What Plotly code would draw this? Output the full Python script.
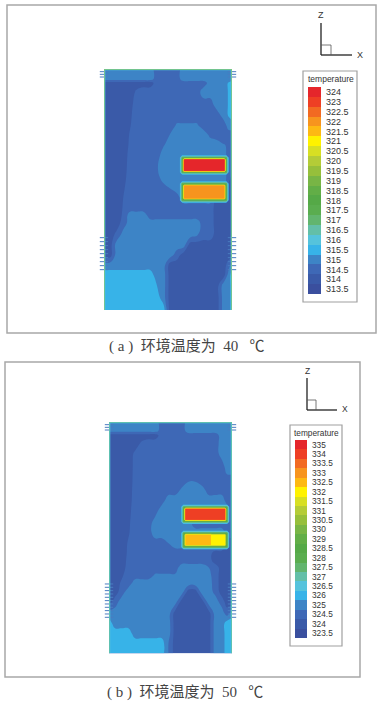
import plotly.graph_objects as go

W, H = 381, 705

# legend bands, lowest first
levels_a = ["313.5","314","314.5","315","315.5","316","316.5","317","317.5","318","318.5",
            "319","319.5","320","320.5","321","321.5","322","322.5","323","324"]
levels_b = ["323.5","324","324.5","325","326","326.5","327","327.5","328","328.5","329",
            "330","330.5","331","331.5","332","332.5","333","333.5","334","335"]
band_colors = ["#3a4f9e","#3a5aa8","#3e68b6","#3d84c6","#37b3e8","#55c3dc","#63bfa8","#62b56e",
               "#5aad4f","#55a947","#62ae47","#78b545","#96bf3b","#b4cc37","#d7df23","#fff200",
               "#fdb913","#f7941e","#f26a22","#ee3f24","#e5262b"]
captions = ["( a )  环境温度为  40   ℃", "( b )  环境温度为  50   ℃"]

# temperature field, as legend band number per grid node
x_a = [42,60,80,100,120,140,160,180,200,220,240,260,280,300,320,340,360,380,400,415,425]
y_a = [42,72,84,110,150,180,210,240,270,300,340,370,400,430,460,480,505,540,570,600,630,660,690,730,765]
z_a = [
 [3,3,3,3,3,3,3,3,2,2,2,2,3,3,3,3,3,3,3,3,3],
 [3,3,3,3,3,3,3,3,2,2,2,2,3,3,3,3,3,3,3,3,3],
 [1,1,1,1,1,1,1,1,2,2,2,2,2,2,2,2,3,3,3,3.6,4],
 [1,1,1,1,1,1.67,2,2,2,2,2,2,2,2,2,3,3,3,3,3.6,4],
 [1,1,1,1,1.17,2,2,2,2,2,2,2,2,2,2,2,2,3,3,3.6,4],
 [1,1,1,1,1.33,2,2,2,2,2,2,2,2,2,2,2,2,2,3,3.6,4],
 [1,1,1,1,1.44,2,2,2,2,2,2,2.6,2.6,2.6,2.6,2,2,2,2,3,3],
 [1,1,1,1,1.59,2,2,2,2,2,2.56,3,3,3,3,3,2.3,2,2,2,2],
 [1,1,1,1,1.67,2,2,2,2,2.4,3,3,3,3,3,3,3,3,2.55,2.4,2],
 [1,1,1,1,1.83,2,2,2,2,3,3,3,3,3,3,3,3,3,3,2,2],
 [1,1,1,1,2,2,2,2,2.4,3,3,3,3,3,3,3,3,3,3,2,2],
 [1,1,1,1.17,2,2,2,2,2,3,3,3,3,3,3,3,3,3,3,2,1],
 [1,1,1,1.38,2,2,2,2,2,2,2.52,3,3,3,3,3,3,3,3,1,1],
 [1,1,1,1.52,2,2,2,2,2,2,2,2,3,3,3,3,3,1,1,1,1],
 [1,1,1,1.59,2,2,2,2,2,2,2,2,2,2,2,2,2,1,1,1,1],
 [1,1,1,1.67,3,3,3,2,2,2,2,2,2,2,2,2,2,1,1,1,1],
 [1,1,1,2,3,3,3,3,3,3,3,3,3,3,3,2,2,1,1,1,1],
 [1,1,1.8,3,3,3,3,3,3,3,3,3,3,3,2.6,2,2,1,1,1,1],
 [1,1,3,3,3,3,3,3,3,3,3,3,3,1,1,1,1,1,1,1,1],
 [1,1,3,3,3,3,3,3,3,3,3,2,1,1,1,1,1,1,1,1,1],
 [3,3,3,3,3,3,3,3,3,3,1,1,1,1,1,1,1,1,1,2,3],
 [4,4,4,4,4,4,4,4,3,3,1,1,1,1,1,1,1,1,1,3,4],
 [4,4,4,4,4,4,4,4,3.5,3,1,1,1,1,1,1,1,1,3,3,4],
 [4,4,4,4,4,4,4,4,4,3,1,1,1,1,1,1,1,1,3,3,4],
 [4,4,4,4,4,4,4,4,4,4,1,1,1,1,1,1,1,1,3,3,4],
]
x_b = [57,75,95,115,135,155,175,195,215,235,255,275,295,315,335,355,375,395,410,425]
y_b = [36,62,76,100,130,170,215,240,270,300,340,370,400,430,452,472,495,520,545,575,610,640,670,700,730]
z_b = [
 [3,3,3,3,3,3,3,3,2,2,2,2,3,3,3,3,3,3,3,3],
 [3,3,3,3,3,3,3,3,2,2,2,2,3,3,3,3,3,3,3,3],
 [1,1,1,1,1,1,1,1,2,2,2,2,2,2,2,2,2,3,3,3],
 [1,1,1,1,1,1.67,2,2,2,2,2,2,2,2,2,2,2,3,3,3],
 [1,1,1,1,1.67,2,2,2,2,2,2,2,2,2,2,2,2,3,3,3],
 [1,1,1,1,1.77,2,2,2,2,2,2,2,2,2,2,2,2,2,3,3],
 [1,1,1,1,1.83,2,2,2,2,2,2,2,2.5,2.5,2,2,2,2,2,2],
 [1,1,1,1,1.91,2,2,2,2,2,2,2.7,3,3,3,2,2,2,2,2],
 [1,1,1,1,2,2,2,2,2,3,3,3,3,3,3,3,3,3,2,2],
 [1,1,1,1.17,2,2,2,2,3,3,3,3,3,3,3,3,3,3,3,2],
 [1,1,1,1.33,2,2,2,3,3,3,3,3,3,2,2,2,2,2,2,2],
 [1,1,1,1.41,2,2,2,3,3,3,3,3,3,3,3,3,3,3,2,2],
 [1,1,1,1.6,2,2,2,2,2,2.5,3,3,3,3,3,3,3,3,1,1],
 [1,1,1,1.67,2,2,2,2,2,2,2,2,2,2,2,2,1,1,1,1],
 [1,1,1,1.77,2,2,2,2,2,2,2,2,2,2,2,2,1,1,1,1],
 [1,1,1,1.91,2,2,2,2,2,2,2,3,3,3,3,2.5,2,1,1,1],
 [1,1,1.33,2,2,2,2,2.6,2.6,2.6,2.6,3,3,3,3,2.8,2,1,1,1],
 [1,1,1.67,2,3,3,3,3,3,3,3,3,3,3,3,3,2,1,1,1],
 [1,1,2,3,3,3,3,3,3,3,3,3,1,1,3,3,2.2,1,1,1],
 [1,2,3,3,3,3,3,3,3,3,3,1,1,1,1,3,3,2,1,1],
 [3,3,3,3,3,3,3,3,3,3,1,1,1,1,1,1,3,3,2,3],
 [4,3,3,3,3,3,3,3,3,3,1,1,1,1,1,1,3,3,4,4],
 [4,4,4,4,3,3,3,3,3,3,1,1,1,1,1,1,3,3,4,4],
 [4,4,4,4,4,4,4,4,4,2.5,1,1,1,1,1,1,3,3,4,4],
 [4,4,4,4,4,4,4,4,4,2.5,1,1,1,1,1,1,3,3,4,4],
]

# hot blocks: band number per grid node
block_a1_x = [268,276,282,402,408,416]
block_a1_y = [300,308,314,347,352,360]
block_a1_z = [[3,3,3,3,3,3],[3,8,8,8,8,3],[3,8,20,20,8,3],[3,8,20,20,8,3],[3,8,8,8,8,3],[3,3,3,3,3,3]]
block_a2_x = [268,276,282,402,408,416]
block_a2_y = [378,386,392,430,436,444]
block_a2_z = [[3,3,3,3,3,3],[3,8,8,8,8,3],[3,8,17,17,8,3],[3,8,17,17,8,3],[3,8,8,8,8,3],[3,3,3,3,3,3]]
block_b1_x = [272,280,286,404,410,418]
block_b1_y = [283,291,297,329,335,343]
block_b1_z = [[3,3,3,3,3,3],[3,8,8,8,8,3],[3,8,19,19,8,3],[3,8,19,19,8,3],[3,8,8,8,8,3],[3,3,3,3,3,3]]
block_b2_x = [272,280,286,360,364,404,410,418]
block_b2_y = [361,369,375,405,411,419]
block_b2_z = [[3,3,3,3,3,3,3,3],[3,8,8,8,8,8,8,3],[3,8,16,16,15,15,8,3],[3,8,16,16,15,15,8,3],[3,8,8,8,8,8,8,3],[3,3,3,3,3,3,3,3]]

# serrated boundary-condition ticks along the side walls
ticks_a_y = [50,58,66,548,560,572,584,596,608,620,632,644]
ticks_b_y = [44,52,60,522,532,542,552,562,572,582,592,602,612,622]

opaque = [[i / 20, c] for i, c in enumerate(band_colors)]
def rgba(c, a):
    return f"rgba({int(c[1:3],16)},{int(c[3:5],16)},{int(c[5:7],16)},{a})"
halo = [[i / 20, rgba(c, 0 if i <= 3 else 1)] for i, c in enumerate(band_colors)]

def fx(px): return px / W
def fy(py): return 1 - py / H

fig = go.Figure()

def field(x, y, z, xa, ya, scale, smooth):
    fig.add_trace(go.Contour(x=x, y=y, z=z, xaxis=xa, yaxis=ya, colorscale=scale, zmin=0, zmax=20,
                             autocontour=False, showscale=False, hoverinfo="skip",
                             line=dict(width=0, smoothing=smooth),
                             contours=dict(start=0.5, end=19.5, size=1, coloring="fill", showlines=False)))

def walls(x, y, ticks, xa, ya, under, over):
    l, r, t, b = x[0], x[-1], y[0], y[-1]
    fig.add_trace(go.Scatter(x=[l]*len(ticks)+[r]*len(ticks), y=ticks+ticks, xaxis=xa, yaxis=ya, mode="markers",
                             cliponaxis=False, showlegend=False, hoverinfo="skip",
                             marker=dict(symbol="line-ew", size=6, line=dict(width=1, color="#4a7cc0"))))
    for c, w in ((under, 2.6), (over, 1.4)):
        fig.add_trace(go.Scatter(x=[l, l, r, r], y=[b, t, t, b], xaxis=xa, yaxis=ya, mode="lines",
                                 cliponaxis=False, showlegend=False, hoverinfo="skip",
                                 line=dict(color=c, width=w)))

field(x_a, y_a, z_a, "x", "y", opaque, 1.3)
field(block_a1_x, block_a1_y, block_a1_z, "x", "y", halo, 0)
field(block_a2_x, block_a2_y, block_a2_z, "x", "y", halo, 0)
walls(x_a, y_a, ticks_a_y, "x", "y", "#55c3dc", "#7cc576")

field(x_b, y_b, z_b, "x3", "y3", opaque, 1.3)
field(block_b1_x, block_b1_y, block_b1_z, "x3", "y3", halo, 0)
field(block_b2_x, block_b2_y, block_b2_z, "x3", "y3", halo, 0)
walls(x_b, y_b, ticks_b_y, "x3", "y3", "#55c3dc", "#62c0a0")

def bar(levels, xa, ya):
    fig.add_trace(go.Heatmap(x=[0], y=levels, z=[[i] for i in range(21)], xaxis=xa, yaxis=ya,
                             colorscale=opaque, zmin=0, zmax=20, showscale=False, hoverinfo="skip"))
bar(levels_a, "x2", "y2")
bar(levels_b, "x4", "y4")

def hidden(d0, d1, **kw):
    return dict(domain=[d0, d1], visible=False, **kw)

def baraxis(y0, y1, anchor, size, standoff, levels):
    return dict(domain=[fy(y1), fy(y0)], type="category", side="right", anchor=anchor, showgrid=False,
                zeroline=False, showline=False, ticks="", ticklabelstandoff=standoff,
                tickmode="array", tickvals=levels, ticktext=levels,
                tickfont=dict(family="Liberation Sans", size=size, color="#333333"))

fig.update_layout(
    width=W, height=H, margin=dict(l=0, r=0, t=0, b=0), paper_bgcolor="white", plot_bgcolor="white",
    showlegend=False,
    xaxis=hidden(fx(104), fx(232), range=[x_a[0], x_a[-1]]),
    yaxis=hidden(fy(310), fy(69), range=[y_a[-1], y_a[0]]),
    xaxis3=hidden(fx(109), fx(232), range=[x_b[0], x_b[-1]]),
    yaxis3=hidden(fy(653.3), fy(422), range=[y_b[-1], y_b[0]]),
    xaxis2=hidden(fx(308), fx(321)),
    yaxis2=baraxis(87, 294, "x2", 9, 4, levels_a),
    xaxis4=hidden(fx(295), fx(307)),
    yaxis4=baraxis(440, 638, "x4", 8.3, 4, levels_b),
)

def rect(x0, y0, x1, y1, color, width, fill=None):
    return dict(type="rect", xref="paper", yref="paper", x0=fx(x0), x1=fx(x1), y0=fy(y0), y1=fy(y1),
                line=dict(color=color, width=width), fillcolor=fill, layer="below")
def seg(x0, y0, x1, y1, width=1.3, color="#222222"):
    return dict(type="line", xref="paper", yref="paper", x0=fx(x0), x1=fx(x1), y0=fy(y0), y1=fy(y1),
                line=dict(color=color, width=width))

fig.update_layout(shapes=[
    rect(7, 5, 376, 333, "#a8a8a8", 1.5),
    rect(303, 71, 357, 302, "#a0a0a0", 1.2, "white"),
    seg(321, 23, 321, 55), seg(321, 55, 352, 55), seg(321, 45, 331, 45, 0.8, "#555555"), seg(331, 45, 331, 55, 0.8, "#555555"),
    rect(5, 362, 360, 677, "#a8a8a8", 1.5),
    rect(290, 425, 342, 646, "#a0a0a0", 1.2, "white"),
    seg(307, 378, 307, 410), seg(307, 410, 337, 410), seg(307, 400, 316, 400, 0.8, "#555555"), seg(316, 400, 316, 410, 0.8, "#555555"),
])

def text(px, py, s, size, family="Liberation Sans", color="#333333"):
    fig.add_annotation(xref="paper", yref="paper", x=fx(px), y=fy(py), text=s, showarrow=False,
                       xanchor="center", yanchor="middle", font=dict(family=family, size=size, color=color))

text(321, 15, "Z", 9)
text(360, 55, "X", 9)
text(330.5, 79, "temperature", 8.5)
text(307, 371, "Z", 8.5)
text(345, 409, "X", 8.5)
text(316, 432.5, "temperature", 8.3)
serif = "Liberation Serif, Noto Sans CJK SC"
text(186.5, 346, captions[0], 15, serif, "#444444")
text(185, 692, captions[1], 15, serif, "#444444")

fig.write_html("out.html", config={"displayModeBar": False}, post_script="document.body.style.margin='0';")
